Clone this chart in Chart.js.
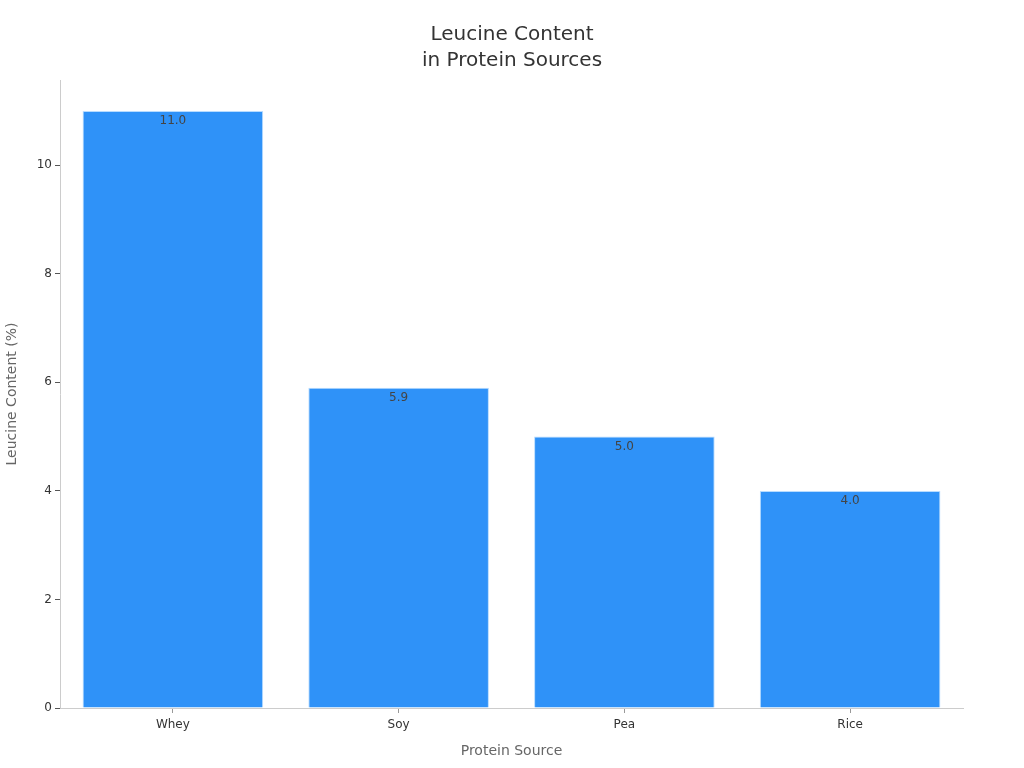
<!DOCTYPE html>
<html>
<head>
<meta charset="utf-8">
<script src="https://cdn.jsdelivr.net/npm/chart.js@4"></script>
<style>
  html, body { margin: 0; padding: 0; background: #fff; }
  #wrap { width: 1024px; height: 768px; }
</style>
</head>
<body>
<div id="wrap"><canvas id="myViz" width="1024" height="768"></canvas></div>
<script>
const categories = ['Whey', 'Soy', 'Pea', 'Rice'];
const leucine = [11.0, 5.9, 5.0, 4.0];
const yTicks = [0, 2, 4, 6, 8, 10];

Chart.defaults.font.family = '"DejaVu Sans", sans-serif';
Chart.defaults.color = '#333';

// value labels just inside the top of each bar
const barLabels = {
    id: 'barLabels',
    afterDatasetsDraw(chart) {
        const ctx = chart.ctx;
        const meta = chart.getDatasetMeta(0);
        ctx.save();
        ctx.font = '12px "DejaVu Sans", sans-serif';
        ctx.fillStyle = '#444';
        ctx.textAlign = 'center';
        ctx.textBaseline = 'top';
        meta.data.forEach((bar, i) => {
            ctx.fillText(leucine[i].toFixed(1), bar.x, bar.y + 4);
        });
        ctx.restore();
    },
};

const config = {
    type: 'bar',
    plugins: [barLabels],
    data: {
        labels: categories,
        datasets: [{
            data: leucine,
            backgroundColor: '#2f92f8',
            borderColor: '#b8dcff',
            borderWidth: 1,
            barPercentage: 0.8,
            categoryPercentage: 1.0,
        }],
    },
    options: {
        responsive: false,
        animation: false,
        layout: { padding: 0 },
        plugins: {
            legend: { display: false },
            tooltip: { enabled: false },
            title: {
                display: true,
                text: ['Leucine Content', 'in Protein Sources'],
                color: '#333',
                font: { size: 20, weight: 'normal', lineHeight: 1.3 },
                padding: { top: 22, bottom: 6 },
            },
        },
        scales: {
            x: {
                grid: { display: true, offset: false, drawOnChartArea: false, tickLength: 5, color: '#999' },
                border: { display: true, color: '#ccc' },
                ticks: { font: { size: 12 }, color: '#333', padding: 5 },
                title: {
                    display: true,
                    text: 'Protein Source',
                    color: '#666',
                    font: { size: 14 },
                    padding: { top: 0, bottom: 8 },
                },
                afterFit: (scale) => { scale.height = 60; },
            },
            y: {
                min: 0,
                max: 11.57,
                afterBuildTicks: (scale) => {
                    scale.ticks = yTicks.map((v) => ({ value: v }));
                },
                grid: { display: true, drawOnChartArea: false, tickLength: 5, color: '#555' },
                border: { display: true, color: '#ccc' },
                ticks: { font: { size: 12 }, color: '#333', padding: 3 },
                title: {
                    display: true,
                    text: 'Leucine Content (%)',
                    color: '#666',
                    font: { size: 14 },
                    padding: { top: 4, bottom: 4 },
                },
                afterFit: (scale) => { scale.width = 60; },
            },
            // empty right-hand margin so the title stays centred on the page
            yRight: {
                position: 'right',
                display: true,
                grid: { display: false },
                border: { display: false },
                ticks: { display: false },
                afterFit: (scale) => { scale.width = 61; },
            },
        },
    },
};

new Chart(document.getElementById('myViz').getContext('2d'), config);
</script>
</body>
</html>
